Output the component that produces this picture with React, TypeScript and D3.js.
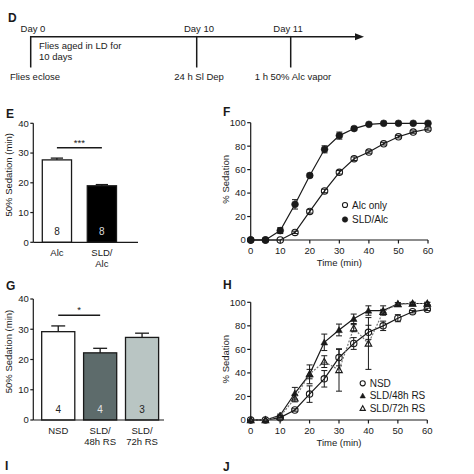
import React from "react";
import * as d3 from "d3";

// ---------- data ----------
const eCategories = ["Alc", "SLD/\nAlc"];
const eValues = [27.7, 19.0];
const eErrors = [0.6, 0.4];
const eN = ["8", "8"];
const eFills = ["#ffffff", "#000000"];
const eNColors = ["#222222", "#dddddd"];

const gCategories = ["NSD", "SLD/\n48h RS", "SLD/\n72h RS"];
const gValues = [29.2, 22.2, 27.3];
const gErrors = [1.9, 1.5, 1.4];
const gN = ["4", "4", "3"];
const gFills = ["#ffffff", "#5d6b6b", "#b9c5c3"];
const gNColors = ["#222222", "#e6e6e6", "#222222"];

const barTicks = [0, 10, 20, 30, 40];
const timeTicks = [0, 10, 20, 30, 40, 50, 60];
const pctTicks = [0, 20, 40, 60, 80, 100];

const timeMin = [0, 5, 10, 15, 20, 25, 30, 35, 40, 45, 50, 55, 60];
const alcOnly = [0, 0, 0, 6.5, 24.4, 41.8, 57.7, 69.3, 75, 82, 88, 92, 94.6];
const alcOnlyErr = [0, 0, 0.5, 1, 1.5, 1.5, 1.5, 1.5, 1, 1, 1, 1, 1];
const sldAlc = [0, 0, 8, 30.4, 55, 77.3, 89, 95, 98.6, 99.5, 99.5, 99.5, 99.5];
const sldAlcErr = [0, 0, 2.5, 4, 1.5, 3, 3, 1.5, 1, 0.5, 0.5, 0.5, 0.5];

const nsd = [0, 0, 2, 8.5, 22, 35, 53, 65, 74.5, 80, 86.5, 92, 94];
const nsdErr = [0, 0, 0.5, 1, 7, 7, 7, 5, 6, 4, 3, 1, 1];
const sld48 = [0, 0, 4, 22.7, 38.8, 66, 76.5, 86, 93, 93, 98.6, 99, 99];
const sld48Err = [0, 0, 1, 5, 8, 7, 5, 4, 4, 4, 1, 1, 1];
const sld72 = [0, 0, 3, 18.4, 39, 49.6, 42.5, 78, 65, 92, 98.6, 99, 99];
const sld72Err = [0, 0, 1, 3, 4, 5, 18, 3, 22, 2, 1, 1, 1];

const FONT = "'Liberation Sans', Arial, sans-serif";
const INK = "#1a1a1a";
const FS = 9.5;

// ---------- bar panel ----------
function BarPanel(props: {
  letter: string;
  top: number;
  bottom: number;
  cats: string[];
  values: number[];
  errors: number[];
  ns: string[];
  fills: string[];
  nColors: string[];
  range: [number, number];
  paddingInner: number;
  axisEnd: number;
  sig: { from: number; to: number; label: string };
  letterY: number;
}) {
  const { top, bottom, cats, values, errors, ns, fills, nColors } = props;
  const y = d3.scaleLinear().domain([0, 40]).range([bottom, top]);
  const x = d3
    .scaleBand<string>()
    .domain(cats)
    .range(props.range)
    .paddingInner(props.paddingInner)
    .paddingOuter(0.2);
  const axisX = props.range[0];
  const bw = x.bandwidth();
  const capW = bw * 0.42;
  const sx1 = (x(cats[props.sig.from]) as number) + bw * 0.5;
  const sx2 = (x(cats[props.sig.to]) as number) + bw * 0.5;
  const sigY = y(Math.max(values[props.sig.from] + errors[props.sig.from], values[props.sig.to] + errors[props.sig.to]) + 3.5);
  return (
    <g>
      <text x={6} y={props.letterY} fontSize={12} fontWeight="bold" fill={INK}>
        {props.letter}
      </text>
      {cats.map((c, i) => {
        const x0 = x(c) as number;
        const cx = x0 + bw / 2;
        return (
          <g key={c}>
            <line x1={cx} x2={cx} y1={y(values[i] - errors[i])} y2={y(values[i] + errors[i])} stroke={INK} strokeWidth={1.3} />
            <line x1={cx - capW / 2} x2={cx + capW / 2} y1={y(values[i] + errors[i])} y2={y(values[i] + errors[i])} stroke={INK} strokeWidth={1.3} />
            <line x1={cx - capW / 2} x2={cx + capW / 2} y1={y(values[i] - errors[i])} y2={y(values[i] - errors[i])} stroke={INK} strokeWidth={1.3} />
            <rect x={x0} y={y(values[i])} width={bw} height={y(0) - y(values[i])} fill={fills[i]} stroke={INK} strokeWidth={1.3} />
            <text x={cx} y={y(0) - 7} textAnchor="middle" fontSize={FS + 0.5} fill={nColors[i]}>
              {ns[i]}
            </text>
            {c.split("\n").map((line, k) => (
              <text key={k} x={cx} y={y(0) + 14 + k * 10.5} textAnchor="middle" fontSize={FS} fill={INK}>
                {line}
              </text>
            ))}
          </g>
        );
      })}
      <line x1={axisX} x2={axisX} y1={y(40)} y2={y(0)} stroke={INK} strokeWidth={1.2} />
      <line x1={axisX} x2={props.axisEnd} y1={y(0)} y2={y(0)} stroke={INK} strokeWidth={1.2} />
      {barTicks.map((t) => (
        <g key={t}>
          <line x1={axisX - 3} x2={axisX} y1={y(t)} y2={y(t)} stroke={INK} strokeWidth={1.2} />
          <text x={axisX - 4.5} y={y(t) + 3.4} textAnchor="end" fontSize={FS} fill={INK}>
            {t}
          </text>
        </g>
      ))}
      <text
        transform={`translate(${axisX - 21},${(y(0) + y(40)) / 2 - 8}) rotate(-90)`}
        textAnchor="middle"
        fontSize={FS}
        fill={INK}
      >
        50% Sedation (min)
      </text>
      <line x1={sx1} x2={sx2} y1={sigY} y2={sigY} stroke={INK} strokeWidth={1.5} />
      <text x={(sx1 + sx2) / 2} y={sigY - 2} textAnchor="middle" fontSize={FS} fill={INK}>
        {props.sig.label}
      </text>
    </g>
  );
}

// ---------- markers ----------
function Marker(props: { kind: string; x: number; y: number; k?: number }) {
  const { kind, x, y } = props;
  const k = props.k ?? 1;
  if (kind === "openCircle")
    return <circle cx={x} cy={y} r={3.2 * k} fill="none" stroke={INK} strokeWidth={1.1} />;
  if (kind === "filledCircle") return <circle cx={x} cy={y} r={3.4 * k} fill={INK} stroke={INK} strokeWidth={0.6} />;
  const s = 3.3 * k;
  const pts = `${x},${y - s} ${x - s},${y + s * 0.8} ${x + s},${y + s * 0.8}`;
  if (kind === "filledTri") return <polygon points={pts} fill={INK} stroke={INK} strokeWidth={0.6} />;
  return <polygon points={pts} fill="none" stroke={INK} strokeWidth={1.1} />;
}

type Series = {
  name: string;
  values: number[];
  errors: number[];
  marker: string;
  stroke: string;
  dash?: string;
};

function LinePanel(props: {
  letter: string;
  letterY: number;
  x0: number;
  x1: number;
  y0: number;
  y1: number;
  series: Series[];
  legendX: number;
  legendY: number;
  legendStep: number;
}) {
  const x = d3.scaleLinear().domain([0, 60]).range([props.x0, props.x1]);
  const y = d3.scaleLinear().domain([0, 100]).range([props.y0, props.y1]);
  const line = d3
    .line<number>()
    .x((_, i) => x(timeMin[i]))
    .y((d) => y(d));
  return (
    <g>
      <text x={223} y={props.letterY} fontSize={12} fontWeight="bold" fill={INK}>
        {props.letter}
      </text>
      <line x1={x(0)} x2={x(0)} y1={y(0)} y2={y(100)} stroke={INK} strokeWidth={1.2} />
      <line x1={x(0)} x2={x(60)} y1={y(0)} y2={y(0)} stroke={INK} strokeWidth={1.2} />
      {pctTicks.map((t) => (
        <g key={t}>
          <line x1={x(0) - 3.5} x2={x(0)} y1={y(t)} y2={y(t)} stroke={INK} strokeWidth={1.2} />
          <text x={x(0) - 5} y={y(t) + 3.4} textAnchor="end" fontSize={FS} fill={INK}>
            {t}
          </text>
        </g>
      ))}
      {timeTicks.map((t) => (
        <g key={t}>
          <line x1={x(t)} x2={x(t)} y1={y(0)} y2={y(0) + 3.5} stroke={INK} strokeWidth={1.2} />
          <text x={x(t)} y={y(0) + 13.5} textAnchor="middle" fontSize={FS} fill={INK}>
            {t}
          </text>
        </g>
      ))}
      <text
        transform={`translate(${229},${(y(0) + y(100)) / 2 - 2}) rotate(-90)`}
        textAnchor="middle"
        fontSize={FS}
        fill={INK}
      >
        % Sedation
      </text>
      <text x={(x(0) + x(60)) / 2} y={y(0) + 26} textAnchor="middle" fontSize={FS} fill={INK}>
        Time (min)
      </text>
      {props.series.map((s) => (
        <g key={s.name}>
          <path d={line(s.values) || ""} fill="none" stroke={s.stroke} strokeWidth={1.2} strokeDasharray={s.dash} />
          {s.values.map((v, i) =>
            s.errors[i] > 0.8 ? (
              <g key={i}>
                <line x1={x(timeMin[i])} x2={x(timeMin[i])} y1={y(v - s.errors[i])} y2={y(v + s.errors[i])} stroke={INK} strokeWidth={1} />
                <line x1={x(timeMin[i]) - 3} x2={x(timeMin[i]) + 3} y1={y(v - s.errors[i])} y2={y(v - s.errors[i])} stroke={INK} strokeWidth={1} />
                <line x1={x(timeMin[i]) - 3} x2={x(timeMin[i]) + 3} y1={y(v + s.errors[i])} y2={y(v + s.errors[i])} stroke={INK} strokeWidth={1} />
              </g>
            ) : null
          )}
          {s.values.map((v, i) => (
            <Marker key={i} kind={s.marker} x={x(timeMin[i])} y={y(v)} />
          ))}
        </g>
      ))}
      {props.series.map((s, k) => (
        <g key={"lg" + s.name}>
          <Marker kind={s.marker} x={props.legendX} y={props.legendY + k * props.legendStep} k={0.8} />
          <text x={props.legendX + 7} y={props.legendY + k * props.legendStep + 3.5} fontSize={FS + 0.5} fill={INK}>
            {s.name}
          </text>
        </g>
      ))}
    </g>
  );
}

function Timeline() {
  const lineY = 36.7;
  const days = [
    { x: 30.7, top: "Day 0", topX: 33, bottom: "Flies eclose", bottomX: 35 },
    { x: 196.7, top: "Day 10", topX: 199, bottom: "24 h Sl Dep", bottomX: 199 },
    { x: 290.7, top: "Day 11", topX: 288, bottom: "1 h 50% Alc vapor", bottomX: 293 },
  ];
  return (
    <g>
      <text x={8} y={22} fontSize={12} fontWeight="bold" fill={INK}>
        D
      </text>
      <line x1={30} x2={358} y1={lineY} y2={lineY} stroke={INK} strokeWidth={1.5} />
      <polygon points={`${364},${lineY} ${355},${lineY - 3.5} ${355},${lineY + 3.5}`} fill={INK} />
      {days.map((d) => (
        <g key={d.top}>
          <line x1={d.x} x2={d.x} y1={lineY - 0.75} y2={67.5} stroke={INK} strokeWidth={1.5} />
          <text x={d.topX} y={32} textAnchor="middle" fontSize={FS} fill={INK}>
            {d.top}
          </text>
          <text x={d.bottomX} y={80} textAnchor="middle" fontSize={FS} fill={INK}>
            {d.bottom}
          </text>
        </g>
      ))}
      <text x={39} y={49} fontSize={FS} fill={INK}>
        Flies aged in LD for
      </text>
      <text x={39} y={60} fontSize={FS} fill={INK}>
        10 days
      </text>
    </g>
  );
}

export default function App() {
  const fSeries: Series[] = [
    { name: "Alc only", values: alcOnly, errors: alcOnlyErr, marker: "openCircle", stroke: INK },
    { name: "SLD/Alc", values: sldAlc, errors: sldAlcErr, marker: "filledCircle", stroke: INK },
  ];
  const hSeries: Series[] = [
    { name: "NSD", values: nsd, errors: nsdErr, marker: "openCircle", stroke: INK },
    { name: "SLD/48h RS", values: sld48, errors: sld48Err, marker: "filledTri", stroke: INK },
    { name: "SLD/72h RS", values: sld72, errors: sld72Err, marker: "openTri", stroke: "#777", dash: "2,1.5" },
  ];
  return (
    <svg
      width={474}
      height={474}
      style={{ position: "absolute", left: 0, top: 0, background: "#fff" }}
      fontFamily={FONT}
    >
      <rect width={474} height={474} fill="#fff" />
      <Timeline />
      <BarPanel
        letter="E"
        letterY={118}
        top={123.3}
        bottom={242.3}
        cats={eCategories}
        values={eValues}
        errors={eErrors}
        ns={eN}
        fills={eFills}
        nColors={eNColors}
        range={[33.3, 125.5]}
        paddingInner={0.35}
        axisEnd={138}
        sig={{ from: 0, to: 1, label: "***" }}
      />
      <LinePanel
        letter="F"
        letterY={116}
        x0={250.7}
        x1={428}
        y0={240}
        y1={122.7}
        series={fSeries}
        legendX={345}
        legendY={205}
        legendStep={14.5}
      />
      <BarPanel
        letter="G"
        letterY={290}
        top={299}
        bottom={420}
        cats={gCategories}
        values={gValues}
        errors={gErrors}
        ns={gN}
        fills={gFills}
        nColors={gNColors}
        range={[33.3, 167]}
        paddingInner={0.21}
        axisEnd={164}
        sig={{ from: 0, to: 1, label: "*" }}
      />
      <LinePanel
        letter="H"
        letterY={289}
        x0={250.7}
        x1={427.3}
        y0={420}
        y1={302.3}
        series={hSeries}
        legendX={362.7}
        legendY={383.3}
        legendStep={12.5}
      />
      <text x={5} y={470} fontSize={12} fontWeight="bold" fill={INK}>
        I
      </text>
      <text x={223} y={471} fontSize={12} fontWeight="bold" fill={INK}>
        J
      </text>
    </svg>
  );
}
